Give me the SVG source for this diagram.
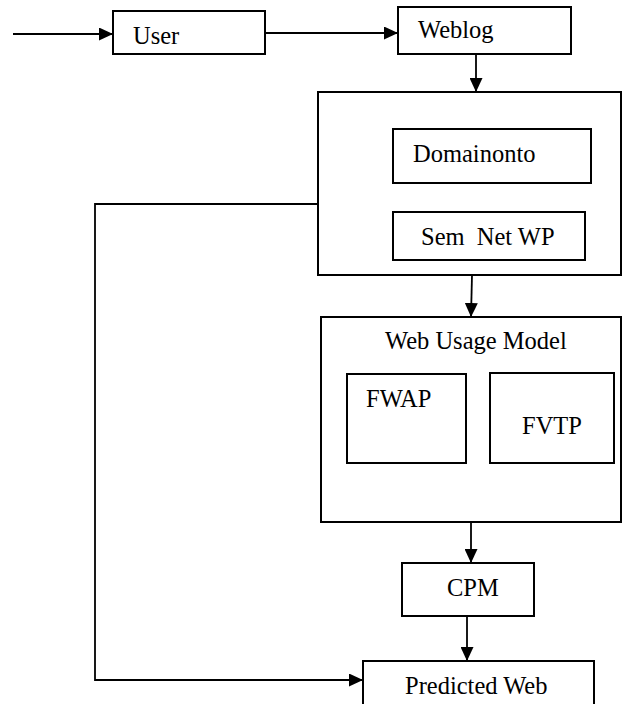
<svg xmlns="http://www.w3.org/2000/svg" width="622" height="704" viewBox="0 0 622 704">
<style>
.box{fill:#fff;stroke:#000;stroke-width:2}
.frame{fill:none;stroke:#000;stroke-width:2}
.ln{fill:none;stroke:#000;stroke-width:1.8}
text{font-family:"Liberation Serif","Times New Roman","DejaVu Serif",serif;font-size:24.5px;fill:#000;white-space:pre}
</style>
<defs>
<marker id="ah" markerUnits="userSpaceOnUse" markerWidth="14" markerHeight="13" refX="14" refY="6.5" orient="auto">
<path d="M0,0 L14,6.5 L0,13 z" fill="#000"/>
</marker>
</defs>
<rect width="622" height="704" fill="#fff"/>
<g id="connectors">
<line class="ln" x1="13" y1="34" x2="113" y2="34" marker-end="url(#ah)"/>
<line class="ln" x1="265" y1="33" x2="398" y2="33" marker-end="url(#ah)"/>
<line class="ln" x1="476" y1="54" x2="476" y2="92" marker-end="url(#ah)"/>
<line class="ln" x1="472" y1="275" x2="471" y2="317" marker-end="url(#ah)"/>
<line class="ln" x1="471" y1="522" x2="471" y2="563" marker-end="url(#ah)"/>
<line class="ln" x1="467" y1="616" x2="467" y2="661" marker-end="url(#ah)"/>
<polyline class="ln" points="318,204 95,204 95,680 363,680" marker-end="url(#ah)"/>
</g>
<g id="user">
<rect class="box" x="113" y="11" width="152" height="43"/>
<text x="133" y="44">User</text>
</g>
<g id="weblog">
<rect class="box" x="398" y="7" width="173" height="47"/>
<text x="418" y="38">Weblog</text>
</g>
<g id="ontology-block">
<rect class="frame" x="318" y="92" width="303" height="183"/>
<g id="domainonto">
<rect class="box" x="393" y="129" width="198" height="54"/>
<text x="413" y="162">Domainonto</text>
</g>
<g id="semnetwp">
<rect class="box" x="393" y="212" width="192" height="48"/>
<text x="421" y="245">Sem  Net WP</text>
</g>
</g>
<g id="web-usage-model">
<rect class="frame" x="321" y="317" width="300" height="205"/>
<text x="385" y="349">Web Usage Model</text>
<g id="fwap">
<rect class="box" x="347" y="374" width="119" height="89"/>
<text x="366" y="407">FWAP</text>
</g>
<g id="fvtp">
<rect class="box" x="490" y="373" width="124" height="90"/>
<text x="522" y="434">FVTP</text>
</g>
</g>
<g id="cpm">
<rect class="box" x="402" y="563" width="132" height="53"/>
<text x="447" y="596">CPM</text>
</g>
<g id="predicted-web">
<rect class="box" x="363" y="661" width="231" height="60"/>
<text x="405" y="694">Predicted Web</text>
</g>
</svg>
